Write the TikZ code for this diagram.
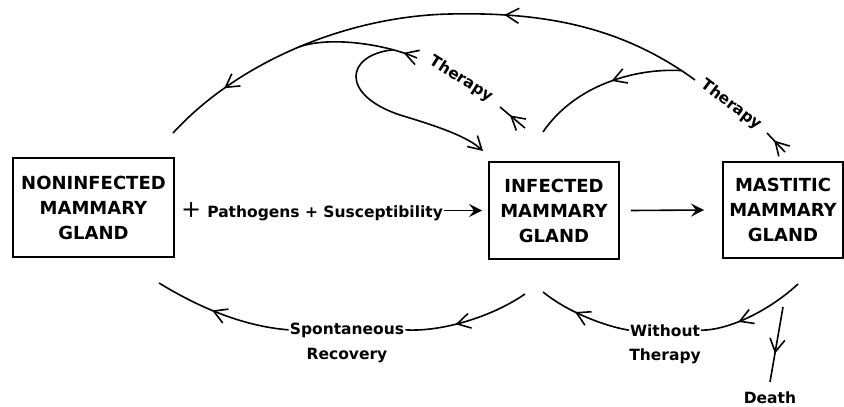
\documentclass[tikz,border=0pt]{standalone}
\usepackage{fontspec}
\setsansfont{DejaVu Sans}
\usepackage{tikz}
\usetikzlibrary{arrows.meta, decorations.markings}
\newcommand{\glandfont}{\sffamily\bfseries\fontsize{18}{25}\selectfont}
\newcommand{\flowfont}{\sffamily\bfseries\fontsize{15.5}{24}\selectfont}
\tikzset{
  gland/.style={draw, line width=1.9pt, align=center, font=\glandfont, inner sep=0pt},
  flowlabel/.style={font=\flowfont, inner sep=1pt},
  flow/.style={line width=1.6pt},
  tipat/.style={postaction={decoration={markings,
      mark=at position #1 with {\arrow{Straight Barb[length=13pt,width=15pt]}}}, decorate}},
}

\begin{document}
\begin{tikzpicture}[x=1pt, y=-1pt, >={Stealth[length=13pt, width=13pt, inset=5pt]}]
  \useasboundingbox (0,0) rectangle (844,407);

  % --- the three states of the gland -----------------------------------------
  \node[gland, minimum width=161pt, minimum height=99pt] (noninf) at (93.5,207.5)
    {NONINFECTED\\MAMMARY\\GLAND};
  \node[gland, minimum width=130pt, minimum height=97pt] (inf) at (554,210.5)
    {INFECTED\\MAMMARY\\GLAND};
  \node[gland, minimum width=120pt, minimum height=96pt] (mast) at (783,210)
    {MASTITIC\\MAMMARY\\GLAND};

  % --- infection and onset ---------------------------------------------------
  \node[flowlabel, anchor=base west] (path) at (180,217)
    {{\mdseries\fontsize{24}{24}\selectfont+}\hspace{6pt}Pathogens + Susceptibility};
  \draw[flow, ->] (path.east |- inf.west) -- ([xshift=-6pt]inf.west);
  \draw[flow, ->] ([xshift=11pt]inf.east) -- ([xshift=-18pt]mast.west);

  % --- therapy (upper arcs) --------------------------------------------------
  \node[flowlabel, rotate=-37] (thR) at (731,105) {Therapy};
  \node[flowlabel, rotate=-32] (thL) at (461,79) {Therapy};

  \coordinate (mT) at (785,152);
  \coordinate (mT2) at (767,133);
  \coordinate (bT) at (695,80);
  \coordinate (nT) at (173,133);
  \coordinate (iT) at (543,132);
  \coordinate (iL) at (525,128);
  \coordinate (iL2) at (500,107);
  \coordinate (aL) at (417,58);
  \coordinate (iLoop) at (483,151);

  \draw[flow, tipat=0.6] (mT) -- (mT2);
  \draw[flow, tipat=0.36, tipat=0.88] (bT)
    .. controls (620,25) and (540,12) .. coordinate[pos=0.06] (jR) (450,14)
    .. controls (350,16) and (240,60) .. coordinate[pos=0.5] (jL) (nT);
  \draw[flow, tipat=0.45] (jR) .. controls (635,68) and (575,85) .. (iT);

  \draw[flow, tipat=0.6] (iL) -- (iL2);
  \draw[flow, tipat=0.12] (aL) .. controls (385,44) and (330,36) .. coordinate[pos=0.22] (jLoop) (jL);
  \draw[flow, -{Straight Barb[length=13pt,width=15pt]}] (jLoop)
    .. controls (345,55) and (340,95) .. (400,115)
    .. controls (440,127) and (468,137) .. (iLoop);

  % --- spontaneous recovery and untreated course (lower arcs) ----------------
  \node[flowlabel, anchor=base] (sp) at (347,334) {Spontaneous};
  \node[flowlabel, anchor=base] (rec) at ([yshift=-25pt]sp.base) {Recovery};
  \node[flowlabel, anchor=base] (wo) at (665,336) {Without};
  \node[flowlabel, anchor=base] (wt) at ([yshift=-24pt]wo.base) {Therapy};
  \node[flowlabel, anchor=base] (death) at (770,403) {Death};

  \coordinate (iB1) at (525,294);
  \coordinate (nB) at (159,283);
  \coordinate (mB) at (798,284);
  \coordinate (iB2) at (543,292);
  \coordinate (dS) at (783,307);

  \draw[flow, tipat=0.6] (iB1) .. controls (490,318) and (440,332) .. (sp.east);
  \draw[flow, tipat=0.57] (sp.west) .. controls (240,326) and (195,305) .. (nB);
  \draw[flow, tipat=0.65] (mB) .. controls (770,310) and (730,330) .. (wo.east);
  \draw[flow, tipat=0.6] (wo.west) .. controls (600,325) and (565,310) .. (iB2);
  \draw[flow, tipat=0.62] (dS) -- ([yshift=8pt]death.north);

\end{tikzpicture}
\end{document}
